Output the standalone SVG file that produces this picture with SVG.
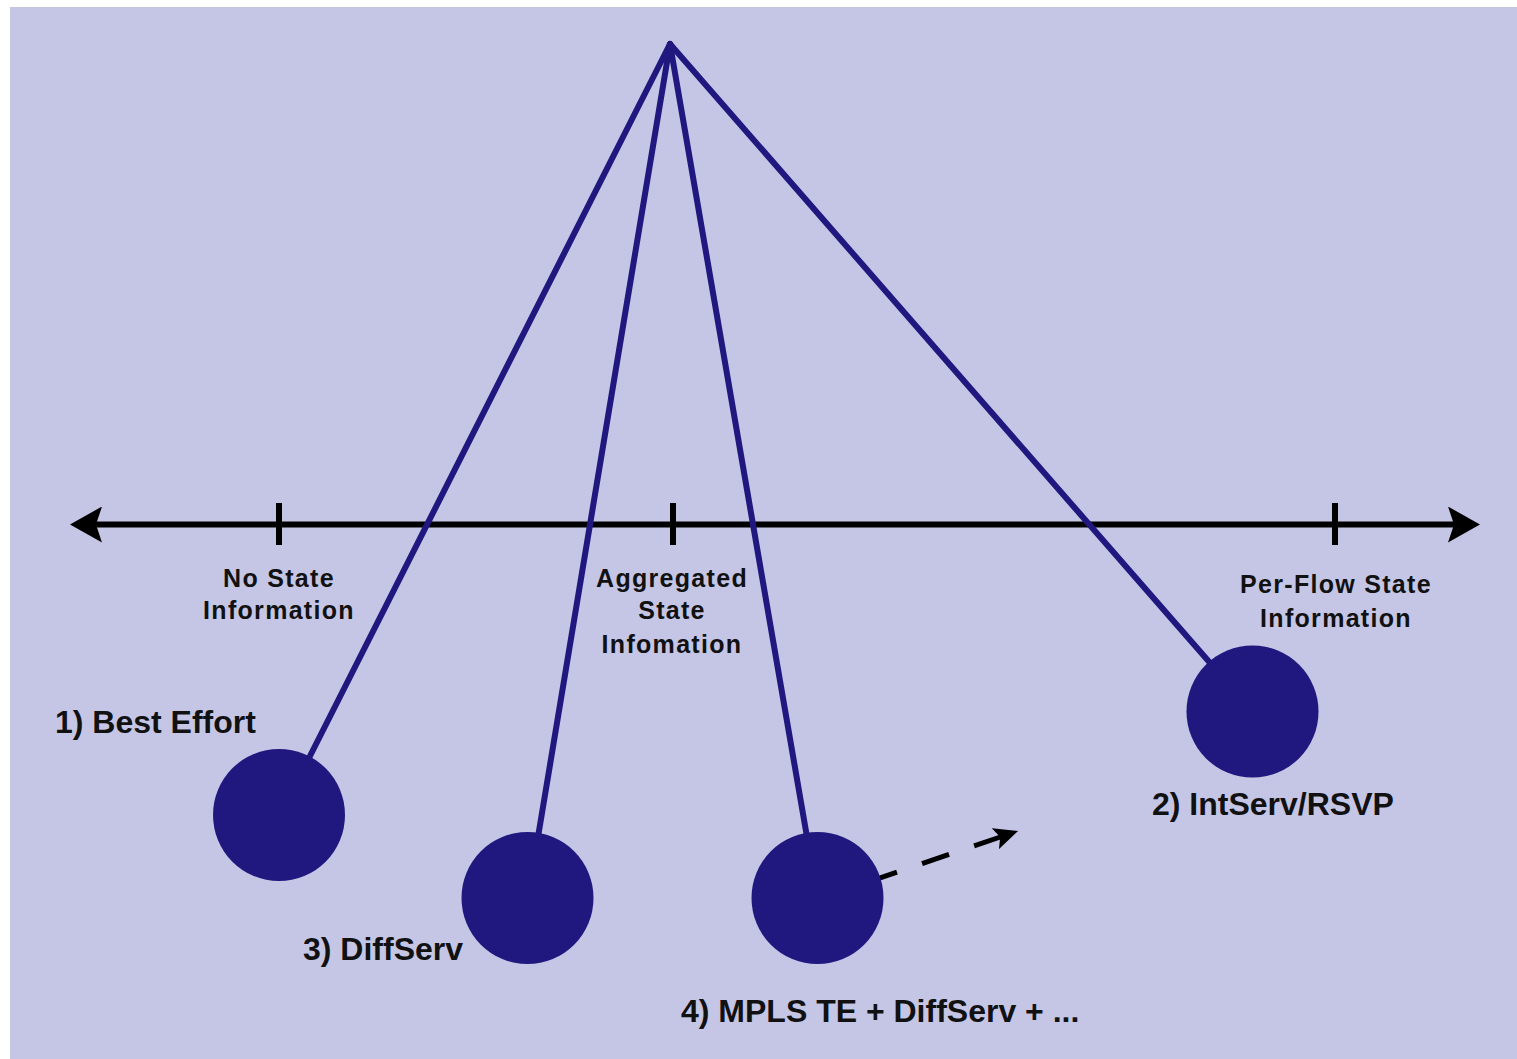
<svg xmlns="http://www.w3.org/2000/svg" width="1517" height="1059" viewBox="0 0 1517 1059">
  <style>
    .bg { fill: #c5c6e6; }
    .ball { fill: #21187f; }
    .string { stroke: #21187f; stroke-width: 6; fill: none; stroke-linecap: round; }
    .axis { stroke: #000; stroke-width: 6; fill: none; }
    .tick { stroke: #000; stroke-width: 6; }
    .dash { stroke: #000; stroke-width: 5; fill: none; stroke-dasharray: 28.5 26.5; }
    .small { font-family: "Liberation Sans", Arial, sans-serif; font-weight: bold; font-size: 25px; letter-spacing: 1.3px; fill: #111; text-anchor: middle; }
    .big { font-family: "Liberation Sans", Arial, sans-serif; font-weight: bold; font-size: 32px; fill: #111; }
  </style>
  <defs>
    <marker id="axisHead" viewBox="0 0 32 36" refX="26" refY="18" markerWidth="32" markerHeight="36" markerUnits="userSpaceOnUse" orient="auto-start-reverse">
      <path d="M0,0 L32,18 L0,36 L6,18 Z" fill="#000"/>
    </marker>
    <marker id="dashHead" viewBox="0 0 24 22" refX="8" refY="11" markerWidth="24" markerHeight="22" markerUnits="userSpaceOnUse" orient="auto">
      <path d="M0,0 L24,11 L0,22 L5,11 Z" fill="#000"/>
    </marker>
  </defs>

  <rect class="bg" x="10" y="7" width="1507" height="1052"/>

  <!-- state axis with tick marks -->
  <g id="axis">
    <line class="axis" x1="76" y1="524.5" x2="1474" y2="524.5" marker-start="url(#axisHead)" marker-end="url(#axisHead)"/>
    <line class="tick" x1="279" y1="503" x2="279" y2="545"/>
    <line class="tick" x1="673" y1="503" x2="673" y2="545"/>
    <line class="tick" x1="1335" y1="503" x2="1335" y2="545"/>
  </g>

  <!-- pendulum strings from the common pivot -->
  <g id="connectors">
    <line class="string" x1="670" y1="44" x2="308" y2="760"/>
    <line class="string" x1="670" y1="44" x2="538" y2="837"/>
    <line class="string" x1="670" y1="44" x2="807" y2="837"/>
    <line class="string" x1="670" y1="44" x2="1211" y2="664"/>
    <path class="dash" d="M870,881.4 L1003,836.1" marker-end="url(#dashHead)"/>
  </g>

  <!-- axis labels -->
  <g id="label-no-state">
    <text class="small" x="279" y="587">No State</text>
    <text class="small" x="279" y="619">Information</text>
  </g>
  <g id="label-aggregated">
    <text class="small" x="672" y="587">Aggregated</text>
    <text class="small" x="672" y="619">State</text>
    <text class="small" x="672" y="653">Infomation</text>
  </g>
  <g id="label-per-flow">
    <text class="small" x="1336" y="593">Per-Flow State</text>
    <text class="small" x="1336" y="627">Information</text>
  </g>

  <!-- pendulum weights -->
  <g id="node-best-effort">
    <circle class="ball" cx="279" cy="815" r="66"/>
    <text class="big" x="55" y="733">1) Best Effort</text>
  </g>
  <g id="node-diffserv">
    <circle class="ball" cx="527.5" cy="898" r="66"/>
    <text class="big" x="303" y="960">3) DiffServ</text>
  </g>
  <g id="node-mpls">
    <circle class="ball" cx="817.5" cy="898" r="66"/>
    <text class="big" x="681" y="1022">4) MPLS TE + DiffServ + ...</text>
  </g>
  <g id="node-intserv">
    <circle class="ball" cx="1252.5" cy="711.5" r="66"/>
    <text class="big" x="1152" y="815">2) IntServ/RSVP</text>
  </g>
</svg>
